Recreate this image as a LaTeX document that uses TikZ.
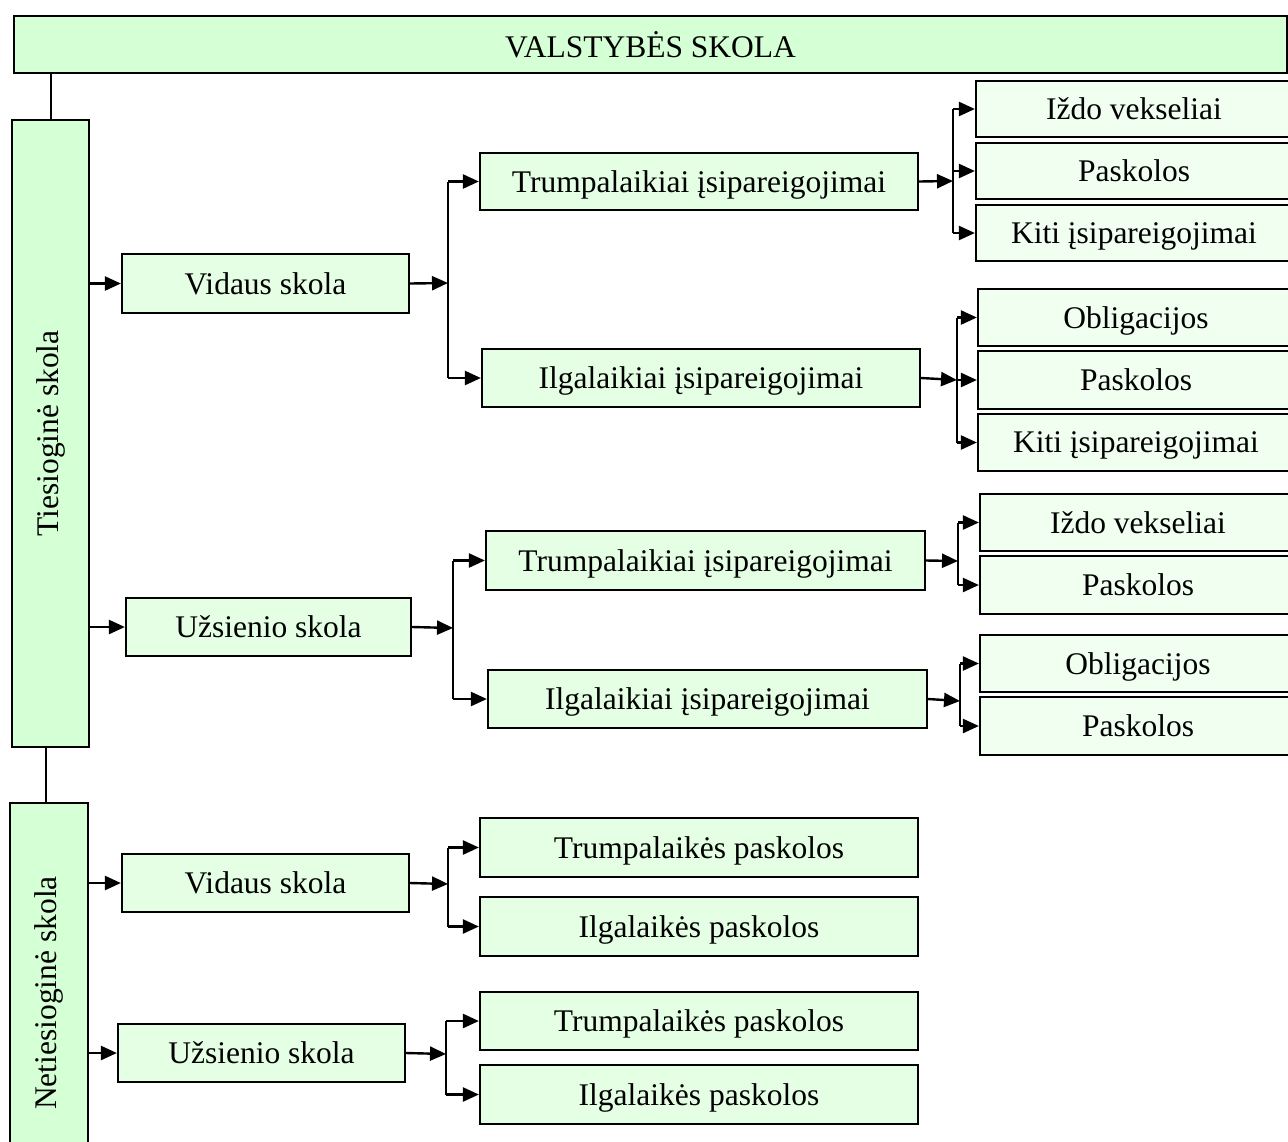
\documentclass[tikz,border=0pt]{standalone}
\usepackage{fontspec}
\setmainfont{Liberation Serif}
\usetikzlibrary{arrows.meta,calc}
\definecolor{fillA}{RGB}{213,255,213}
\definecolor{fillB}{RGB}{228,255,228}
\definecolor{fillC}{RGB}{240,255,240}
\tikzset{
  box/.style={draw=black, line width=2.2pt, inner sep=0pt, text depth=0pt, font=\fontsize{31.5}{36}\selectfont},
  boxA/.style={box, fill=fillA},
  boxB/.style={box, fill=fillB},
  boxC/.style={box, fill=fillC},
  link/.style={line width=2.4pt},
  arr/.style={line width=2.4pt, -{Triangle[length=16pt,width=14pt]}}
}
% a box given by its corner coordinates (pixels, y downwards)
\newcommand{\mybox}[7]{%
  \node[#1, minimum width=#4pt-#2pt, minimum height=#5pt-#3pt, anchor=center]
    (#6) at ({(#2+#4)/2},{(#3+#5)/2}) {#7};}
\begin{document}
\begin{tikzpicture}[x=1pt,y=-1pt]
\useasboundingbox (0,0) rectangle (1288,1141);
\clip (0,0) rectangle (1288,1141);

% top and the two main branches
\mybox{boxA}{14}{16}{1287}{73}{top}{VALSTYBĖS SKOLA}
\mybox{boxA}{12}{120}{89}{747}{tie}{}
\node[font=\fontsize{31.5}{36}\selectfont, rotate=90] (tietxt) at (tie.center) {Tiesioginė skola};
\mybox{boxA}{10}{803}{88}{1183}{net}{}
\node[font=\fontsize{31.5}{36}\selectfont, rotate=90] (nettxt) at (net.center) {Netiesioginė skola};

% direct debt
\mybox{boxB}{122}{254}{409}{313}{v1}{Vidaus skola}
\mybox{boxB}{126}{598}{411}{656}{u1}{Užsienio skola}
\mybox{boxB}{480}{153}{918}{210}{t1}{Trumpalaikiai įsipareigojimai}
\mybox{boxB}{482}{349}{920}{407}{i1}{Ilgalaikiai įsipareigojimai}
\mybox{boxB}{486}{531}{925}{590}{t2}{Trumpalaikiai įsipareigojimai}
\mybox{boxB}{488}{670}{927}{728}{i2}{Ilgalaikiai įsipareigojimai}

\mybox{boxC}{976}{81}{1292}{137}{r1a}{Iždo vekseliai}
\mybox{boxC}{976}{143}{1292}{199}{r1b}{Paskolos}
\mybox{boxC}{976}{205}{1292}{261}{r1c}{Kiti įsipareigojimai}
\mybox{boxC}{978}{289}{1294}{346}{r2a}{Obligacijos}
\mybox{boxC}{978}{351}{1294}{409}{r2b}{Paskolos}
\mybox{boxC}{978}{414}{1294}{471}{r2c}{Kiti įsipareigojimai}
\mybox{boxC}{980}{494}{1296}{551}{r3a}{Iždo vekseliai}
\mybox{boxC}{980}{556}{1296}{614}{r3b}{Paskolos}
\mybox{boxC}{980}{635}{1296}{692}{r4a}{Obligacijos}
\mybox{boxC}{980}{697}{1296}{755}{r4b}{Paskolos}

% indirect debt
\mybox{boxB}{122}{854}{409}{912}{v2}{Vidaus skola}
\mybox{boxB}{118}{1024}{405}{1082}{u2}{Užsienio skola}
\mybox{boxB}{480}{818}{918}{877}{tp1}{Trumpalaikės paskolos}
\mybox{boxB}{480}{897}{918}{956}{ip1}{Ilgalaikės paskolos}
\mybox{boxB}{480}{992}{918}{1050}{tp2}{Trumpalaikės paskolos}
\mybox{boxB}{480}{1065}{918}{1124}{ip2}{Ilgalaikės paskolos}

% plain links between the main boxes
\draw[link] (51,73) coordinate (topfoot) -- (topfoot |- tie.north);
\draw[link] (46,747) coordinate (tiefoot) -- (tiefoot |- net.north);

% arrows from the side bars
\draw[arr] (tie.east |- v1.west) -- (v1.west);
\draw[arr] (tie.east |- u1.west) -- (u1.west);
\draw[arr] (net.east |- v2.west) -- (v2.west);
\draw[arr] (net.east |- u2.west) -- (u2.west);

% junction points of the brackets
\coordinate (j1) at (448,283);
\coordinate (j2) at (953,181);
\coordinate (j3) at (957,380);
\coordinate (j4) at (453,628);
\coordinate (j5) at (958,561);
\coordinate (j6) at (960,701);
\coordinate (j7) at (448,884);
\coordinate (j8) at (446,1054);

% Vidaus skola -> short / long term
\draw[arr] (v1.east) -- (j1);
\draw[link] (j1 |- t1.west) -- (j1 |- i1.west);
\draw[arr] (j1 |- t1.west) -- (t1.west);
\draw[arr] (j1 |- i1.west) -- (i1.west);

% short term -> three kinds
\draw[arr] (t1.east) -- (j2);
\draw[link] (j2 |- r1a.west) -- (j2 |- r1c.west);
\draw[arr] (j2 |- r1a.west) -- (r1a.west);
\draw[arr] (j2 |- r1b.west) -- (r1b.west);
\draw[arr] (j2 |- r1c.west) -- (r1c.west);

% long term -> three kinds
\draw[arr] (i1.east) -- (j3);
\draw[link] (j3 |- r2a.west) -- (j3 |- r2c.west);
\draw[arr] (j3 |- r2a.west) -- (r2a.west);
\draw[arr] (j3 |- r2b.west) -- (r2b.west);
\draw[arr] (j3 |- r2c.west) -- (r2c.west);

% Užsienio skola -> short / long term
\draw[arr] (u1.east) -- (j4);
\draw[link] (j4 |- t2.west) -- (j4 |- i2.west);
\draw[arr] (j4 |- t2.west) -- (t2.west);
\draw[arr] (j4 |- i2.west) -- (i2.west);

\draw[arr] (t2.east) -- (j5);
\draw[link] (j5 |- r3a.west) -- (j5 |- r3b.west);
\draw[arr] (j5 |- r3a.west) -- (r3a.west);
\draw[arr] (j5 |- r3b.west) -- (r3b.west);

\draw[arr] (i2.east) -- (j6);
\draw[link] (j6 |- r4a.west) -- (j6 |- r4b.west);
\draw[arr] (j6 |- r4a.west) -- (r4a.west);
\draw[arr] (j6 |- r4b.west) -- (r4b.west);

% indirect debt brackets
\draw[arr] (v2.east) -- (j7);
\draw[link] (j7 |- tp1.west) -- (j7 |- ip1.west);
\draw[arr] (j7 |- tp1.west) -- (tp1.west);
\draw[arr] (j7 |- ip1.west) -- (ip1.west);

\draw[arr] (u2.east) -- (j8);
\draw[link] (j8 |- tp2.west) -- (j8 |- ip2.west);
\draw[arr] (j8 |- tp2.west) -- (tp2.west);
\draw[arr] (j8 |- ip2.west) -- (ip2.west);
\end{tikzpicture}
\end{document}
